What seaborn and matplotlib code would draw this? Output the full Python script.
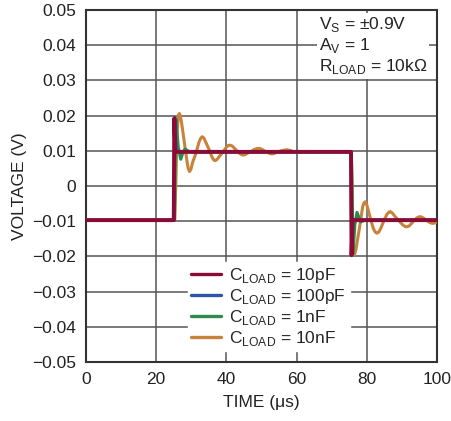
import matplotlib
matplotlib.use("Agg")
import matplotlib.pyplot as plt
import seaborn as sns
import pandas as pd

# ---------------- data ----------------
t_10pf = [0, 25.0, 25.15, 25.45, 75.5, 75.65, 75.95, 100]
v_10pf = [-0.0097, -0.0097, 0.0192, 0.0097, 0.0097, -0.0196, -0.0097, -0.0097]

t_100pf = [0, 25.1, 25.3, 25.7, 75.5, 75.7, 76.1, 100]
v_100pf = [-0.0097, -0.0097, 0.0195, 0.0097, 0.0097, -0.0198, -0.0097, -0.0097]

t_1nf = [0, 25.2, 25.6, 26.3, 27.0, 27.6, 28.2, 29.5,
         75.6, 76.1, 76.6, 77.2, 77.8, 78.3, 79.5, 100]
v_1nf = [-0.0097, -0.0097, 0.0190, 0.0110, 0.0076, 0.0095, 0.0105, 0.0097,
         0.0097, -0.0190, -0.0110, -0.0075, -0.0090, -0.0102, -0.0097, -0.0097]

t_10nf = [0, 25.3, 25.7, 26.0, 26.3, 26.6, 26.9, 27.3, 28.0, 28.7, 29.1, 29.5,
          29.9, 30.4, 31.3, 32.2, 32.7, 33.1, 33.6, 34.1, 35.0, 35.9, 36.4,
          36.8, 37.3, 37.9, 38.9, 40.0, 40.5, 41.0, 41.6, 42.2, 42.9, 43.8,
          44.4, 44.8, 45.3, 46.0, 47.0, 48.0, 48.6, 49.1, 49.7, 50.3, 51.0,
          52.0, 52.5, 52.9, 53.5, 54.2, 55.0, 56.0, 57.2, 58.2, 59.0, 61.0,
          63.0, 75.6,
          75.8, 76.0, 76.2, 76.5, 76.9, 77.9, 78.8, 79.2, 79.5, 79.9, 80.4,
          81.1, 81.9, 82.5, 82.9, 83.4, 84.0, 84.8, 85.7, 86.3, 86.7, 87.3,
          88.0, 89.0, 90.2, 90.9, 91.4, 92.0, 92.6, 93.3, 94.2, 94.8, 95.2,
          95.8, 96.4, 97.1, 98.0, 98.6, 99.0, 99.6, 100]
v_10nf = [-0.0097, -0.0097, 0.0050, 0.0160, 0.0200, 0.0206, 0.0199, 0.0175,
          0.0125, 0.0075, 0.0050, 0.0041, 0.0048, 0.0068, 0.0092, 0.0125,
          0.0136, 0.0140, 0.0136, 0.0125, 0.0105, 0.0082, 0.0074, 0.0072,
          0.0075, 0.0083, 0.0095, 0.0110, 0.0115, 0.0116, 0.0114, 0.0108,
          0.0101, 0.0092, 0.0089, 0.0088, 0.0089, 0.0093, 0.0098, 0.0104,
          0.0106, 0.0107, 0.0106, 0.0103, 0.0099, 0.0094, 0.0092, 0.0091,
          0.0092, 0.0095, 0.0098, 0.0101, 0.0103, 0.0101, 0.0098, 0.0096,
          0.0098, 0.0097,
          0.0000, -0.0150, -0.0193, -0.0195, -0.0180, -0.0120, -0.0060,
          -0.0048, -0.0045, -0.0050, -0.0068, -0.0095, -0.0122, -0.0132,
          -0.0134, -0.0131, -0.0120, -0.0100, -0.0081, -0.0074, -0.0073,
          -0.0077, -0.0086, -0.0097, -0.0110, -0.0115, -0.0116, -0.0114,
          -0.0108, -0.0100, -0.0091, -0.0088, -0.0087, -0.0089, -0.0093,
          -0.0098, -0.0104, -0.0106, -0.0106, -0.0104, -0.0102]

labels = [r"C$_\mathregular{LOAD}$ = 10pF", r"C$_\mathregular{LOAD}$ = 100pF",
          r"C$_\mathregular{LOAD}$ = 1nF", r"C$_\mathregular{LOAD}$ = 10nF"]
x_ticks = [0, 20, 40, 60, 80, 100]
y_ticks = [-0.05, -0.04, -0.03, -0.02, -0.01, 0, 0.01, 0.02, 0.03, 0.04, 0.05]
y_ticklabels = ["\u22120.05", "\u22120.04", "\u22120.03", "\u22120.02", "\u22120.01", "0",
                "0.01", "0.02", "0.03", "0.04", "0.05"]

# ---------------- style ----------------
sns.set_style("white")
FONT = ["Liberation Sans Narrow", "Liberation Sans", "DejaVu Sans"]
plt.rcParams["font.family"] = FONT
plt.rcParams["font.size"] = 12.5

colors = ["#8c0a36", "#2f56a6", "#2e8a4f", "#c8823a"]
widths = [2.8, 2.2, 2.2, 2.2]

fig = plt.figure(figsize=(4.51, 4.21), dpi=100)
ax = fig.add_axes([86 / 451, 59 / 421, 351 / 451, 352 / 421])

series = [(t_10pf, v_10pf), (t_100pf, v_100pf), (t_1nf, v_1nf), (t_10nf, v_10nf)]
for i in [3, 2, 1, 0]:
    t, v = series[i]
    df = pd.DataFrame({"t": t, "v": v})
    sns.lineplot(data=df, x="t", y="v", ax=ax, color=colors[i], lw=widths[i],
                 estimator=None, sort=False, label=labels[i], zorder=3 + (3 - i))

h, l = ax.get_legend_handles_labels()
lab2h = dict(zip(l, h))
ordered = [lab2h[lb] for lb in labels]

ax.set_xlim(0, 100)
ax.set_ylim(-0.05, 0.05)
ax.set_xticks(x_ticks)
ax.set_xticklabels([str(x) for x in x_ticks])
ax.set_yticks(y_ticks)
ax.set_yticklabels(y_ticklabels)
ax.tick_params(length=0, labelsize=12.5, colors="#222222")
ax.tick_params(axis="x", pad=7)
ax.tick_params(axis="y", pad=7)
ax.grid(True, color="#555555", lw=1.1, zorder=1)
ax.set_axisbelow(True)
for s in ax.spines.values():
    s.set_color("#333333")
    s.set_linewidth(1.5)

ax.set_xlabel("TIME (\u03bcs)", fontsize=12.5, color="#222222", labelpad=6)
ax.set_ylabel("VOLTAGE (V)", fontsize=12.5, color="#222222", labelpad=4)

leg = ax.legend(ordered, labels, loc="lower left", bbox_to_anchor=(0.29, 0.03),
                frameon=True, fontsize=12.5, handlelength=1.7, handletextpad=0.5,
                labelspacing=0.12, borderpad=0.2, borderaxespad=0)
leg.get_frame().set_facecolor("white")
leg.get_frame().set_edgecolor("white")
leg.get_frame().set_alpha(1)
leg.set_zorder(10)
for ln in leg.get_lines():
    ln.set_linewidth(2.4)

txt = "V$_\\mathregular{S}$ = \u00b10.9V\nA$_\\mathregular{V}$ = 1\nR$_\\mathregular{LOAD}$ = 10k\u03a9"
ax.text(0.663, 0.985, txt, transform=ax.transAxes, ha="left", va="top",
        fontsize=12.5, color="#222222", linespacing=1.15, zorder=11,
        bbox=dict(facecolor="white", edgecolor="none", pad=1.5))

fig.savefig("out.png", dpi=100)
